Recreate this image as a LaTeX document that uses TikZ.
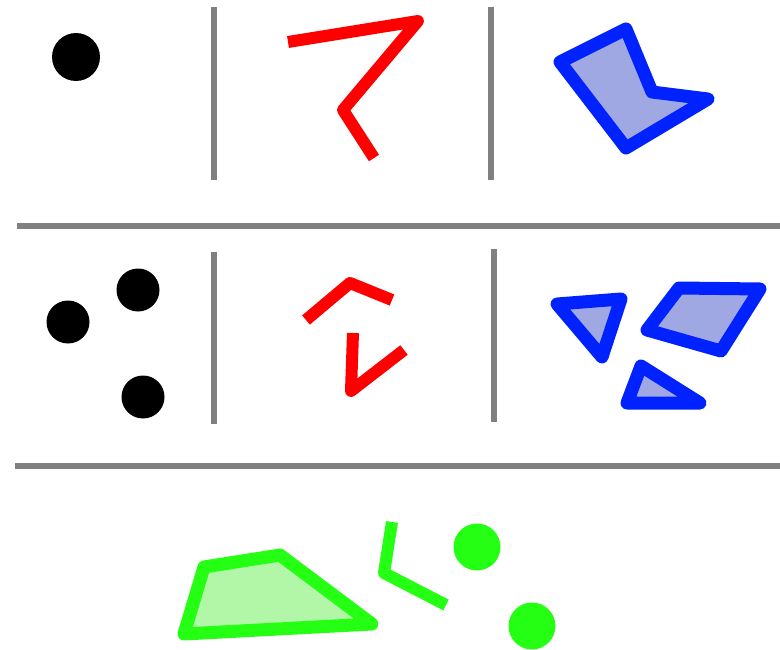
\documentclass[tikz,border=0pt]{standalone}
\definecolor{sepgray}{RGB}{128,128,128}
\definecolor{redline}{RGB}{255,0,0}
\definecolor{bluestroke}{RGB}{0,34,255}
\definecolor{bluefill}{RGB}{160,168,228}
\definecolor{greenstroke}{RGB}{36,255,20}
\definecolor{greenfill}{RGB}{178,247,168}
\tikzset{
  sep/.style={draw=sepgray,line width=6pt},
  dotblack/.style={fill=black},
  redpath/.style={draw=redline,line width=12pt,line join=round},
  bluepoly/.style={draw=bluestroke,fill=bluefill,line width=13pt,line join=round},
  greenpoly/.style={draw=greenstroke,fill=greenfill,line width=13pt,line join=round},
  greenpath/.style={draw=greenstroke,line width=12pt,line join=round},
  greendot/.style={fill=greenstroke}
}
\begin{document}
\begin{tikzpicture}[x=1pt,y=-1pt]
\useasboundingbox (0,0) rectangle (780,650);
% separators
\path[sep] (214,7) -- (214,180);
\path[sep] (491,7) -- (491,180);
\path[sep] (17,226) -- (780,226);
\path[sep] (214,252) -- (214,424);
\path[sep] (494,249) -- (494,422);
\path[sep] (15,466) -- (780,466);
% row 1
\fill[dotblack] (76,57) circle (24);
\path[redpath] (288,42) -- (418,21) -- (343,110) -- (374,158);
\path[bluepoly] (560,62) -- (626,29) -- (652,92) -- (708,99) -- (626,148) -- cycle;
% row 2
\fill[dotblack] (68,322) circle (21.5);
\fill[dotblack] (138,290) circle (21.5);
\fill[dotblack] (143,397) circle (21.5);
\path[redpath] (306,320) -- (350,283) -- (392,300);
\path[redpath] (353,333) -- (351,391) -- (404,350);
\path[bluepoly] (557,304) -- (621,299) -- (602,357) -- cycle;
\path[bluepoly] (647,330) -- (679,288) -- (760,289) -- (721,351) -- cycle;
\path[bluepoly] (627,403) -- (641,366) -- (700,403) -- cycle;
% row 3
\path[greenpoly] (184,634) -- (204,567) -- (280,555) -- (372,624) -- cycle;
\path[greenpath] (392,522) -- (384,573) -- (446,605);
\fill[greendot] (477,547) circle (23.5);
\fill[greendot] (532,626) circle (23.5);
\end{tikzpicture}
\end{document}
